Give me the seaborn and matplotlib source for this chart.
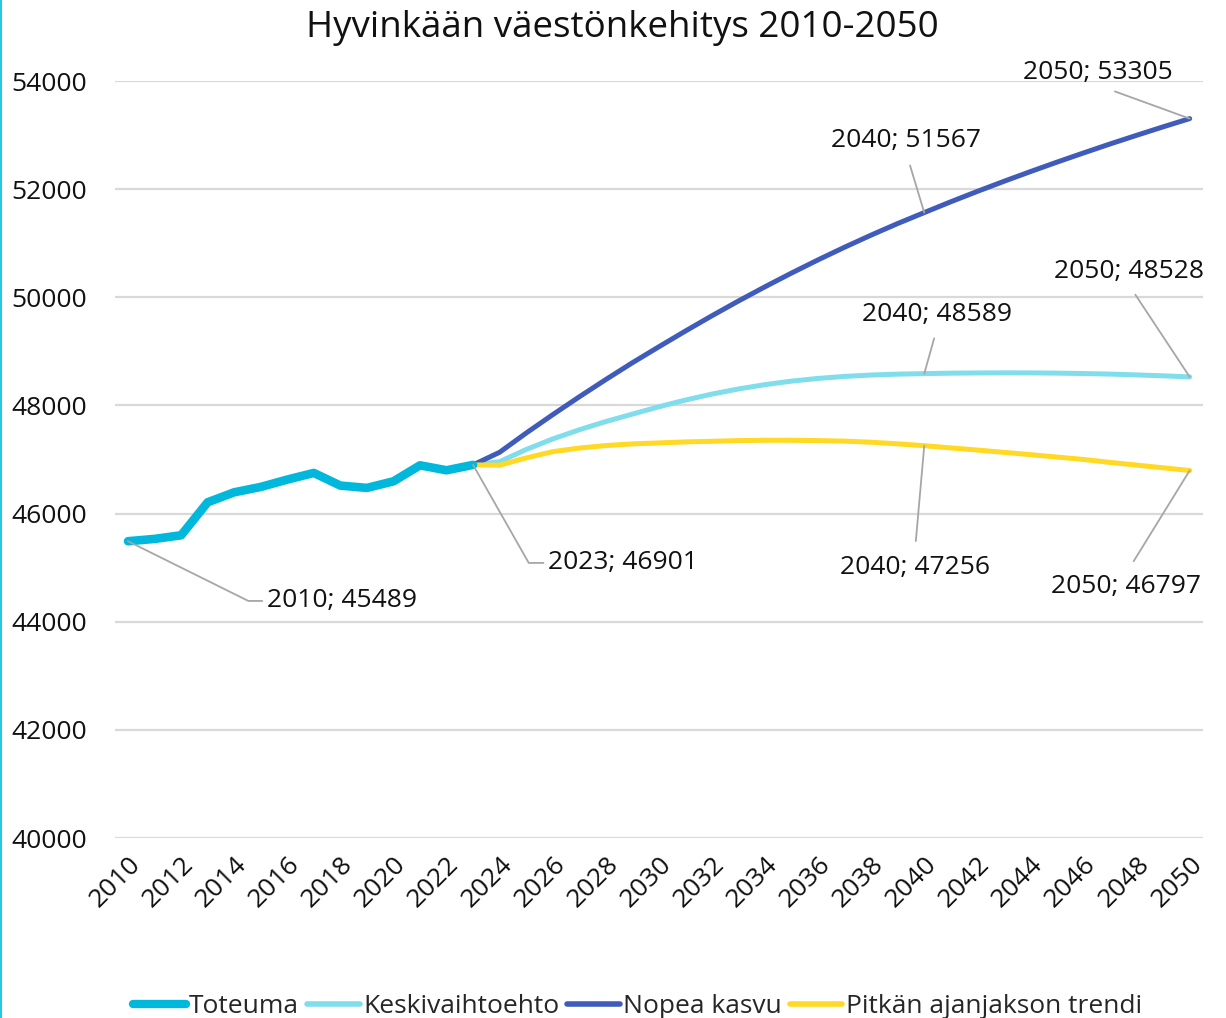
import numpy as np
import pandas as pd
import matplotlib
matplotlib.use("Agg")
import matplotlib.pyplot as plt
import seaborn as sns
from matplotlib.lines import Line2D

# ---------------- data ----------------
years_actual = list(range(2010, 2024))
toteuma = [45489, 45532, 45599, 46209, 46394, 46493, 46629, 46752,
           46518, 46475, 46597, 46893, 46801, 46901]

years_proj = list(range(2023, 2051))
keskivaihtoehto = [46901, 46960, 47185, 47380, 47550, 47702, 47840, 47975,
                   48100, 48210, 48305, 48385, 48450, 48500, 48537, 48563,
                   48579, 48589, 48597, 48601, 48603, 48602, 48598, 48590,
                   48580, 48565, 48548, 48528]
nopea_kasvu = [46901, 47134, 47489, 47829, 48159, 48479, 48789, 49085,
               49376, 49659, 49932, 50195, 50449, 50693, 50927, 51151,
               51365, 51567, 51767, 51959, 52145, 52325, 52500, 52670,
               52836, 52996, 53153, 53305]
pitkan_trendi = [46901, 46895, 47030, 47145, 47212, 47258, 47289, 47307,
                 47326, 47337, 47350, 47356, 47356, 47350, 47340, 47320,
                 47290, 47256, 47215, 47175, 47133, 47090, 47046, 47001,
                 46947, 46897, 46847, 46797]

series_names = ["Toteuma", "Keskivaihtoehto", "Nopea kasvu", "Pitkän ajanjakson trendi"]
series_colors = ["#00B8DB", "#80DDEC", "#405CBB", "#FFD923"]
title_text = "Hyvinkään väestönkehitys 2010-2050"
y_ticks = [40000, 42000, 44000, 46000, 48000, 50000, 52000, 54000]
x_ticks = list(range(2010, 2051, 2))

# labelled points: (series, year)
labelled = [("Toteuma", 2010), ("Toteuma", 2023),
            ("Pitkän ajanjakson trendi", 2040), ("Pitkän ajanjakson trendi", 2050),
            ("Keskivaihtoehto", 2040), ("Keskivaihtoehto", 2050),
            ("Nopea kasvu", 2040), ("Nopea kasvu", 2050)]

# ---------------- frame ----------------
frames = [pd.DataFrame({"Vuosi": years_actual, "Väestö": toteuma, "Sarja": "Toteuma"}),
          pd.DataFrame({"Vuosi": years_proj, "Väestö": keskivaihtoehto, "Sarja": "Keskivaihtoehto"}),
          pd.DataFrame({"Vuosi": years_proj, "Väestö": nopea_kasvu, "Sarja": "Nopea kasvu"}),
          pd.DataFrame({"Vuosi": years_proj, "Väestö": pitkan_trendi, "Sarja": "Pitkän ajanjakson trendi"})]
df = pd.concat(frames, ignore_index=True)

sns.set_style("white")
plt.rcParams["font.family"] = ["Open Sans", "DejaVu Sans"]

fig = plt.figure(figsize=(12.26, 10.18), dpi=100)
ax = fig.add_axes([0.0936, 0.1768, 0.8876, 0.7436])

widths = [6.2, 3.6, 3.6, 3.6]
for i, name in enumerate(series_names):
    sns.lineplot(data=df[df["Sarja"] == name], x="Vuosi", y="Väestö", ax=ax,
                 color=series_colors[i], linewidth=widths[i], label=name,
                 solid_capstyle="round", solid_joinstyle="round",
                 zorder=4 if i == 0 else 3)

ax.set_xlim(2009.5, 2050.5)
ax.set_ylim(40000, 54000)
ax.set_yticks(y_ticks)
ax.set_xticks(x_ticks)
ax.set_xticklabels([str(x) for x in x_ticks], rotation=45, ha="right",
                   rotation_mode="anchor", fontsize=19)
ax.set_yticklabels([str(y) for y in y_ticks], fontsize=19)
ax.tick_params(axis="y", length=0, pad=20, colors="#111111")
ax.tick_params(axis="x", length=0, pad=10, colors="#111111")
ax.set_xlabel("")
ax.set_ylabel("")
ax.grid(axis="y", color="#D9D9D9", linewidth=1.6)
ax.grid(axis="x", visible=False)
for s in ax.spines.values():
    s.set_visible(False)
ax.set_axisbelow(True)

# ---------------- data labels ----------------
data_map = {"Toteuma": (years_actual, toteuma),
            "Keskivaihtoehto": (years_proj, keskivaihtoehto),
            "Nopea kasvu": (years_proj, nopea_kasvu),
            "Pitkän ajanjakson trendi": (years_proj, pitkan_trendi)}
# offsets (points), relpos, connectionstyle, shrinkA
label_style = [((154, -43), (0, 0.5), "angle,angleA=0,angleB=-26.4,rad=0", 1),
               ((108, -70.6), (0, 0.5), "angle,angleA=0,angleB=-60.4,rad=0", 1),
               ((-7, -88), (0.5, 1), "arc3", 8),
               ((-46, -83.5), (0.5, 1), "arc3", 8),
               ((9.4, 42.5), (0.5, 0), "arc3", 6),
               ((-44, 75.6), (0.5, 0), "arc3", 6),
               ((-13, 52), (0.5, 0), "arc3", 7),
               ((-66, 33), (0.5, 0), "arc3", 6)]
for (name, yr), (off, rel, conn, shr) in zip(labelled, label_style):
    xs, ys = data_map[name]
    val = ys[xs.index(yr)]
    ax.annotate(f"{yr}; {val}", xy=(yr, val), xytext=off, textcoords="offset points",
                ha="center", va="center", fontsize=19, color="#111111",
                arrowprops=dict(arrowstyle="-", color="#A6A6A6", lw=1.3,
                                relpos=rel, connectionstyle=conn,
                                shrinkA=shr, shrinkB=0), zorder=6)

# ---------------- title & legend ----------------
fig.text(0.508, 1 - 28 / 1018, title_text, ha="center", va="center",
         fontsize=26.5, color="#111111")

if ax.legend_:
    ax.legend_.remove()
handles = [Line2D([0], [0], color=c, lw=w, solid_capstyle="round")
           for c, w in zip(series_colors, [6, 4, 4, 4])]
fig.legend(handles, series_names, loc="center", bbox_to_anchor=(0.52, 0.011),
           ncol=4, frameon=False, fontsize=19, handlelength=2.0,
           handletextpad=0.12, columnspacing=0.3, borderaxespad=0)

# left border line of the chart area
fig.add_artist(Line2D([0.0008, 0.0008], [0, 1], transform=fig.transFigure,
                      color="#2CC5E0", lw=1.5))

fig.savefig("out.png", dpi=100)
